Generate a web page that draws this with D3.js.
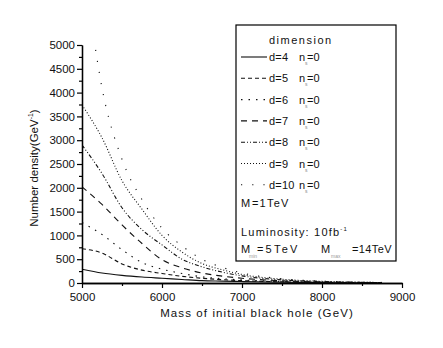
<!DOCTYPE html>
<html><head><meta charset="utf-8">
<script src="https://cdn.jsdelivr.net/npm/d3@7"></script>
<style>body{margin:0;background:#fff}svg{display:block;font-family:Arial,"Liberation Sans",sans-serif}</style>
</head><body><svg id="c" width="443" height="348"></svg>
<script>
const masses = [5000, 5250, 5500, 5750, 6000, 6250, 6500, 6750, 7000, 7500, 8000, 8500, 8750];
const d4  = [290, 210, 160, 125, 100, 75, 50, 40, 30, 15, 8, 4, 3];
const d5  = [720, 630, 400, 270, 200, 140, 100, 70, 50, 25, 12, 6, 4];
const d6  = [1270, 1020, 700, 430, 290, 200, 130, 90, 65, 32, 15, 7, 5];
const d7  = [2020, 1650, 1220, 830, 490, 320, 210, 145, 100, 45, 20, 10, 6];
const d8  = [2900, 2300, 1580, 1120, 800, 500, 340, 230, 150, 65, 30, 14, 9];
const d9  = [3740, 3050, 2150, 1550, 1000, 650, 410, 280, 180, 80, 35, 16, 10];
const d10 = [7000, 4100, 2600, 1750, 1150, 780, 500, 330, 210, 90, 40, 18, 12];
const seriesNames = ["d=4", "d=5", "d=6", "d=7", "d=8", "d=9", "d=10"];
const seriesValues = [d4, d5, d6, d7, d8, d9, d10];
const dashes = [null, "4,3", "1.5,6", "6,5", "4,2,1,2,1,2", "1,2", "1.2,10"];
const xTicks = [5000, 6000, 7000, 8000, 9000];
const yTicks = [0, 500, 1000, 1500, 2000, 2500, 3000, 3500, 4000, 4500, 5000];

const svg = d3.select("#c");
const x = d3.scaleLinear().domain([5000, 9000]).range([82, 402]);
const y = d3.scaleLinear().domain([0, 5000]).range([283, 45]);

svg.append("clipPath").attr("id","clip").append("rect")
  .attr("x", 82).attr("y", 45).attr("width", 320).attr("height", 238);

const line = d3.line().x((d,i)=>x(masses[i])).y(d=>y(d)).curve(d3.curveMonotoneX);
const g = svg.append("g").attr("clip-path","url(#clip)");
seriesValues.forEach((vals, k) => {
  g.append("path").datum(vals).attr("d", line)
    .attr("fill","none").attr("stroke","#111").attr("stroke-width", 1.1)
    .attr("stroke-dasharray", dashes[k]);
});

// axes
const xAxis = svg.append("g").attr("transform","translate(0,283)")
  .call(d3.axisBottom(x).tickValues(xTicks).tickFormat(d3.format("d")).tickSize(5).tickSizeOuter(0));
svg.append("g").attr("transform","translate(0,283)")
  .call(d3.axisBottom(x).tickValues([5500,6500,7500,8500]).tickFormat("").tickSize(3).tickSizeOuter(0));
const yAxis = svg.append("g").attr("transform","translate(82,0)")
  .call(d3.axisLeft(y).tickValues(yTicks).tickFormat(d3.format("d")).tickSize(5).tickSizeOuter(0));
svg.append("g").attr("transform","translate(82,0)")
  .call(d3.axisLeft(y).tickValues(d3.range(250, 5000, 500)).tickFormat("").tickSize(3).tickSizeOuter(0));
svg.selectAll(".domain").attr("stroke","#000").attr("stroke-width",1.3);
svg.selectAll(".tick line").attr("stroke","#000").attr("stroke-width",1.2);
xAxis.selectAll("text").attr("font-size", 11.5).attr("fill","#111").attr("dy","0.9em");
yAxis.selectAll("text").attr("font-size", 11.5).attr("fill","#111").attr("x", -7);

svg.append("text").attr("x", 257).attr("y", 317).attr("text-anchor","middle")
  .attr("font-size", 11.5).attr("letter-spacing", 1.1).attr("fill","#111")
  .text("Mass of initial black hole (GeV)");
const yt = svg.append("text").attr("transform","translate(38,168) rotate(-90)")
  .attr("text-anchor","middle").attr("font-size", 11.5).attr("fill","#111");
yt.append("tspan").text("Number density(GeV");
yt.append("tspan").attr("font-size", 7).attr("dy", -5).text("-1");
yt.append("tspan").attr("dy", 5).text(")");

// legend
const lg = svg.append("g");
lg.append("rect").attr("x", 236).attr("y", 25).attr("width", 160).attr("height", 236)
  .attr("fill","#fff").attr("stroke","#000").attr("stroke-width", 1.2);
const fs = 11;
lg.append("text").attr("x", 269).attr("y", 44).attr("font-size", fs).attr("letter-spacing", 1.5).attr("fill","#111").text("dimension");
seriesNames.forEach((nm, k) => {
  const yy = 57 + k * 21.3;
  lg.append("line").attr("x1", 241).attr("x2", 267).attr("y1", yy).attr("y2", yy)
    .attr("stroke","#111").attr("stroke-width",1.1).attr("stroke-dasharray", dashes[k]);
  lg.append("text").attr("x", 269).attr("y", yy + 4).attr("font-size", fs).attr("letter-spacing", 0.2).attr("fill","#111").text(nm);
  lg.append("text").attr("x", 299).attr("y", yy + 4).attr("font-size", fs).attr("fill","#111").text("n");
  lg.append("text").attr("x", 305).attr("y", yy + 8).attr("font-size", 5).attr("fill","#888").text("s");
  lg.append("text").attr("x", 307).attr("y", yy + 4).attr("font-size", fs).attr("fill","#111").text("=0");
});
lg.append("text").attr("x", 241).attr("y", 207).attr("font-size", fs).attr("fill","#111").text("M");
lg.append("text").attr("x", 252).attr("y", 207).attr("font-size", fs).attr("letter-spacing", 1.2).attr("fill","#111").text("=1TeV");
const lt = lg.append("text").attr("x", 241).attr("y", 236).attr("font-size", fs).attr("letter-spacing", 1.2).attr("fill","#111");
lt.append("tspan").text("Luminosity: 10fb");
lt.append("tspan").attr("font-size", 6).attr("dy", -5).text("-1");
lg.append("text").attr("x", 241).attr("y", 253).attr("font-size", fs).attr("fill","#111").text("M");
lg.append("text").attr("x", 249).attr("y", 258).attr("font-size", 5).attr("fill","#999").text("min");
lg.append("text").attr("x", 257).attr("y", 253).attr("font-size", fs).attr("letter-spacing", 2.2).attr("fill","#111").text("=5TeV");
lg.append("text").attr("x", 321).attr("y", 253).attr("font-size", fs).attr("fill","#111").text("M");
lg.append("text").attr("x", 331).attr("y", 258).attr("font-size", 5).attr("fill","#999").text("max");
lg.append("text").attr("x", 352).attr("y", 253).attr("font-size", fs).attr("letter-spacing", 0.4).attr("fill","#111").text("=14TeV");
</script></body></html>
